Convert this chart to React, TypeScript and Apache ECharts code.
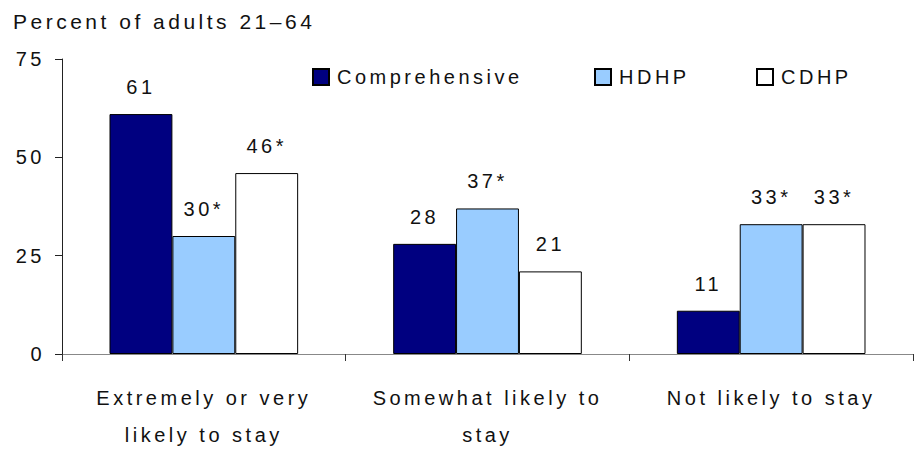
import React, { useEffect, useRef } from "react";
import * as echarts from "echarts";

const categories = ["Extremely or very\nlikely to stay", "Somewhat likely to\nstay", "Not likely to stay"];
const seriesNames = ["Comprehensive", "HDHP", "CDHP"];
const comprehensive = [61, 28, 11];
const hdhp = [30, 37, 33];
const cdhp = [46, 21, 33];
// significance markers (asterisk) per bar
const comprehensiveSig = [false, false, false];
const hdhpSig = [true, true, true];
const cdhpSig = [true, false, true];
const yMin = 0;
const yMax = 75;
const yInterval = 25;
const titleText = "Percent of adults 21–64";

const FONT = "'Liberation Sans', Arial, sans-serif";
const TXT = "#111";

export default function App() {
  const ref = useRef<HTMLDivElement>(null);
  useEffect(() => {
    if (!ref.current) return;
    const chart = echarts.init(ref.current, null, { renderer: "svg" });
    const mk = (name: string, data: number[], sig: boolean[], color: string) => ({
      name,
      type: "bar",
      data,
      barGap: "0%",
      barCategoryGap: "33.5%",
      itemStyle: { color, borderColor: "#000", borderWidth: 1 },
      label: {
        show: true,
        position: "top",
        distance: 17,
        fontFamily: FONT,
        fontSize: 20,
        color: TXT,
        formatter: (p: any) => `${p.value}${sig[p.dataIndex] ? "*" : ""}`,
      },
    });
    const legendBase = {
      top: 67,
      padding: 0,
      icon: "rect",
      itemWidth: 16,
      itemHeight: 16,
      itemGap: 0,
      textStyle: { fontFamily: FONT, fontSize: 20, color: TXT, padding: [0, 0, 0, 3] },
      selectedMode: false,
    };
    chart.setOption({
      animation: false,
      title: {
        text: titleText,
        left: 8,
        top: 6,
        textStyle: { fontFamily: FONT, fontSize: 21, fontWeight: "normal", color: TXT },
      },
      legend: [
        { ...legendBase, left: 312, data: [seriesNames[0]] },
        { ...legendBase, left: 594, data: [seriesNames[1]] },
        { ...legendBase, left: 756, data: [seriesNames[2]] },
      ],
      grid: { left: 62, right: 1, top: 59, bottom: 98, containLabel: false },
      xAxis: {
        type: "category",
        data: categories,
        axisLine: { lineStyle: { color: "#888", width: 1 } },
        axisTick: { show: true, length: 7, lineStyle: { color: "#333" } },
        axisLabel: {
          margin: 25,
          fontFamily: FONT,
          fontSize: 20,
          lineHeight: 37,
          color: TXT,
          interval: 0,
        },
      },
      yAxis: {
        type: "value",
        min: yMin,
        max: yMax,
        interval: yInterval,
        splitLine: { show: false },
        axisLine: { show: true, lineStyle: { color: "#222", width: 1 } },
        axisTick: { show: true, length: 7, lineStyle: { color: "#222" } },
        axisLabel: { margin: 17, fontFamily: FONT, fontSize: 20, color: TXT },
      },
      series: [
        mk(seriesNames[0], comprehensive, comprehensiveSig, "#000080"),
        mk(seriesNames[1], hdhp, hdhpSig, "#99CCFF"),
        mk(seriesNames[2], cdhp, cdhpSig, "#FFFFFF"),
      ],
    });
    return () => chart.dispose();
  }, []);
  return (
    <div
      ref={ref}
      style={{ position: "fixed", left: 0, top: 0, width: 914, height: 453, background: "#fff", letterSpacing: "3.5px" }}
    />
  );
}
